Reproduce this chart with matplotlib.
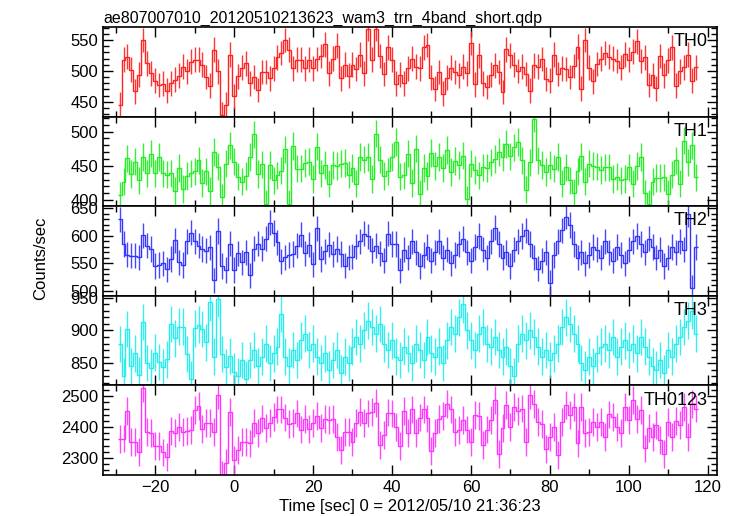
import numpy as np
import matplotlib
matplotlib.use("Agg")
import matplotlib.pyplot as plt
from matplotlib.ticker import MultipleLocator

plt.rcParams['font.family'] = ['Liberation Sans', 'DejaVu Sans']

#  ------- data (1 s bins, t = -29 ... 117) -------  #
time = np.arange(-29, 118)

th0 = [445, 518, 523, 502, 467, 494, 550, 512,
       496, 484, 477, 479, 468, 480, 486, 492,
       507, 499, 515, 518, 518, 510, 490, 476,
       534, 499, 429, 445, 526, 459, 491, 505,
       512, 480, 490, 469, 498, 498, 488, 504,
       522, 529, 550, 534, 504, 518, 518, 504,
       518, 504, 519, 524, 543, 496, 520, 541,
       488, 510, 492, 510, 503, 526, 496, 568,
       518, 568, 524, 495, 538, 518, 479, 494,
       480, 504, 520, 507, 504, 538, 542, 489,
       471, 498, 463, 489, 505, 498, 493, 507,
       496, 545, 478, 525, 480, 474, 494, 509,
       498, 466, 535, 525, 510, 500, 507, 495,
       468, 509, 507, 519, 487, 484, 526, 495,
       504, 503, 490, 508, 539, 471, 550, 505,
       483, 511, 520, 529, 523, 520, 516, 505,
       527, 518, 531, 548, 516, 522, 477, 493,
       472, 524, 493, 517, 538, 476, 499, 506,
       526, 484, 506]

th1 = [407, 427, 461, 438, 456, 429, 463, 439,
       468, 439, 463, 439, 437, 439, 413, 447,
       416, 435, 439, 442, 458, 425, 442, 413,
       470, 449, 404, 453, 480, 456, 434, 427,
       435, 463, 496, 438, 452, 394, 451, 429,
       436, 443, 474, 394, 479, 446, 446, 454,
       456, 431, 478, 439, 451, 424, 451, 450,
       453, 454, 437, 447, 424, 463, 459, 463,
       431, 497, 459, 435, 442, 463, 485, 434,
       436, 468, 425, 475, 409, 447, 435, 469,
       450, 463, 447, 473, 441, 457, 451, 465,
       401, 453, 444, 436, 448, 447, 455, 460,
       470, 463, 482, 464, 477, 485, 458, 415,
       455, 519, 458, 451, 441, 451, 446, 463,
       424, 448, 429, 411, 442, 464, 427, 453,
       450, 449, 444, 448, 448, 431, 434, 429,
       431, 448, 424, 450, 463, 410, 394, 427,
       432, 432, 433, 409, 437, 458, 424, 487,
       455, 480, 433]

th2 = [630, 585, 566, 564, 564, 561, 601, 582,
       576, 545, 547, 550, 539, 558, 592, 552,
       547, 590, 606, 590, 582, 576, 573, 579,
       519, 609, 545, 538, 586, 538, 568, 552,
       570, 528, 577, 586, 577, 595, 624, 605,
       588, 554, 561, 565, 567, 582, 602, 568,
       584, 548, 614, 558, 572, 584, 567, 576,
       567, 546, 561, 562, 581, 590, 604, 599,
       573, 582, 568, 555, 604, 585, 585, 537,
       575, 560, 590, 570, 545, 565, 580, 555,
       570, 590, 560, 575, 550, 565, 585, 595,
       570, 555, 580, 600, 575, 560, 590, 615,
       585, 560, 570, 545, 575, 590, 600, 610,
       585, 560, 540, 555, 570, 515, 565, 590,
       610, 635, 620, 585, 560, 570, 550, 565,
       580, 575, 560, 590, 570, 555, 580, 565,
       550, 575, 590, 600, 585, 570, 595, 580,
       560, 575, 545, 560, 580, 570, 590, 575,
       640, 505, 580]

th3 = [879, 830, 902, 845, 865, 832, 913, 850,
       843, 866, 852, 844, 856, 910, 888, 906,
       906, 864, 826, 903, 909, 902, 882, 943,
       860, 948, 864, 844, 861, 837, 830, 855,
       826,
       855, 870, 845, 860, 880, 850, 865, 875,
       925, 860, 845, 870, 855, 885, 895, 870,
       880, 860, 850, 865, 840, 855, 870, 835,
       860, 850, 875, 890, 880, 900, 915, 905,
       895, 910, 880, 870, 885, 860, 855, 875,
       865, 850, 880, 870, 855, 890, 865, 860,
       875, 850, 885, 905, 895, 920, 940, 900,
       885, 870, 895, 905, 880, 875, 890, 870,
       860, 875, 845, 830, 880, 895, 885, 900,
       890, 875, 860, 870, 855, 865, 880, 905,
       920, 910, 895, 880, 850, 840, 860, 845,
       865, 875, 880, 870, 890, 860, 875, 885,
       870, 880, 865, 890, 875, 860, 845, 840,
       855, 835, 870, 860, 880, 890, 905, 915,
       930, 895]

th0123 = [2361, 2363, 2453, 2352, 2353, 2319, 2525, 2385,
          2382, 2340, 2340, 2318, 2302, 2388, 2382, 2399,
          2385, 2388, 2390, 2455, 2469, 2394, 2412, 2412,
          2385, 2503, 2245, 2283, 2449, 2294, 2326, 2351,
          2351, 2347, 2414, 2380, 2428, 2396, 2414, 2433,
          2457, 2457, 2431, 2409, 2414, 2444, 2392, 2425,
          2394, 2412, 2435, 2396, 2425, 2423, 2425, 2369,
          2326, 2385, 2385, 2353, 2414, 2449, 2412, 2444,
          2449, 2479, 2342, 2374, 2447, 2444, 2400,
          2339, 2453, 2382, 2457, 2382, 2431, 2457, 2428,
          2323, 2382, 2425, 2435, 2474, 2457, 2385, 2390,
          2423, 2392, 2353, 2439, 2435, 2342, 2392, 2423,
          2487, 2313, 2396, 2471, 2401, 2466, 2453, 2460,
          2353, 2503, 2474, 2417, 2410, 2328, 2367, 2401,
          2310, 2417, 2471, 2439, 2466, 2347, 2466, 2380,
          2385, 2417, 2399, 2417, 2367, 2441, 2433, 2401,
          2382, 2466, 2423, 2487, 2425, 2455, 2331, 2396,
          2367, 2406, 2358, 2313, 2417, 2367, 2420, 2406,
          2466, 2369, 2474, 2460]

names = ["TH0", "TH1", "TH2", "TH3", "TH0123"]
series = [th0, th1, th2, th3, th0123]
errors = [20, 20, 23, 28, 45]
colors = ["#ff2020", "#22ee22", "#3333ff", "#22eeee", "#ff33ff"]
ylims = [(426, 571), (391, 522), (491, 654), (816, 953), (2245, 2535)]
ymajor = [50, 50, 50, 50, 100]
yminor = [10, 10, 10, 10, 20]

#  ------- plotting -------  #
fig, axes = plt.subplots(5, 1, sharex=True, figsize=(7.33, 5.16), dpi=100)
fig.subplots_adjust(left=0.1405, right=0.978, bottom=0.0795, top=0.9477, hspace=0)

edges = np.append(time - 0.5, time[-1] + 0.5)
for ax, name, y, err, c, yl, ma, mi in zip(axes, names, series, errors, colors, ylims, ymajor, yminor):
    y = np.asarray(y, dtype=float)
    ax.stairs(y, edges, baseline=None, color=c, lw=1.0)
    ax.errorbar(time, y, yerr=err, fmt='none', ecolor=c, elinewidth=1.0, alpha=0.9)
    ax.set_ylim(*yl)
    ax.yaxis.set_major_locator(MultipleLocator(ma))
    ax.yaxis.set_minor_locator(MultipleLocator(mi))
    ax.xaxis.set_major_locator(MultipleLocator(20))
    ax.xaxis.set_minor_locator(MultipleLocator(10))
    ax.tick_params(which='both', direction='in', top=True, right=True, labelsize=12)
    ax.tick_params(which='major', length=7, width=1)
    ax.tick_params(which='minor', length=4, width=1)
    for s in ax.spines.values():
        s.set_linewidth(1.2)
    ax.text(0.985, 0.93, name, transform=ax.transAxes, ha='right', va='top', fontsize=13)

axes[-1].set_xlim(-33.2, 122.3)
axes[-1].set_xlabel("Time [sec] 0 = 2012/05/10 21:36:23", fontsize=12, labelpad=3)
axes[0].set_title("ae807007010_20120510213623_wam3_trn_4band_short.qdp", loc='left', fontsize=11.5, pad=3)
fig.text(0.055, 0.5, "Counts/sec", rotation=90, ha='center', va='center', fontsize=12)

plt.savefig("out.png", dpi=100)
